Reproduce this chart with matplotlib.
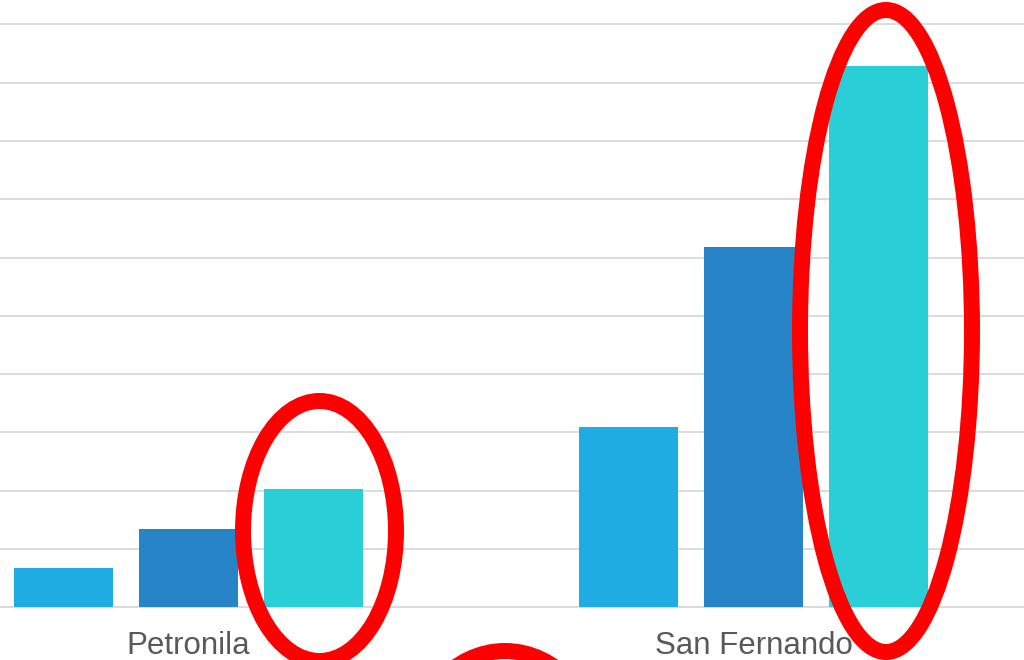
import numpy as np
import matplotlib.pyplot as plt
from matplotlib.patches import Ellipse

plt.rcParams['font.family'] = ['Liberation Sans', 'DejaVu Sans']

# grouped bar data (gridline units)
categories = ['Petronila', 'San Fernando']
series_1 = [0.67, 3.09]
series_2 = [1.35, 6.19]
series_3 = [2.03, 9.29]
colors = ['#1FACE2', '#2784C7', '#29CED7']
GRID = '#D9D9D9'
TEXT = '#595959'

W, H = 1024, 660
fig = plt.figure(figsize=(W / 100, H / 100), dpi=100)
base_px = 608.5
ax = fig.add_axes([0, (H - base_px) / H, 1, base_px / H])

x = np.arange(len(categories))
step, width = 125 / 565, 98.5 / 565
for i, (vals, c) in enumerate(zip([series_1, series_2, series_3], colors)):
    ax.bar(x + (i - 1) * step, vals, width=width, color=c, zorder=3)

ax.set_xlim(-188.5 / 565, (W - 188.5) / 565)
ax.set_ylim(-0.02, base_px / 58.4)
ax.set_yticks(np.arange(0, 11))
ax.yaxis.grid(True, color=GRID, lw=1.3, zorder=0)
ax.xaxis.grid(False)
ax.tick_params(axis='y', left=False, labelleft=False)
ax.tick_params(axis='x', length=0, pad=16.5, labelsize=22.5, labelcolor=TEXT)
ax.set_xticks(x)
ax.set_xticklabels(categories)
for s in ax.spines.values():
    s.set_visible(False)

# red highlight rings, placed in pixel coordinates
ov = fig.add_axes([0, 0, 1, 1], facecolor='none')
ov.set_xlim(0, W); ov.set_ylim(H, 0); ov.axis('off')
for cx, cy, a, b in [(319.5, 531, 76.5, 130), (886, 331, 86, 321), (505, 761, 95, 110)]:
    ov.add_patch(Ellipse((cx, cy), 2 * a, 2 * b, fill=False, ec='#FF0000', lw=11.5))

fig.savefig('out.png', dpi=100)
